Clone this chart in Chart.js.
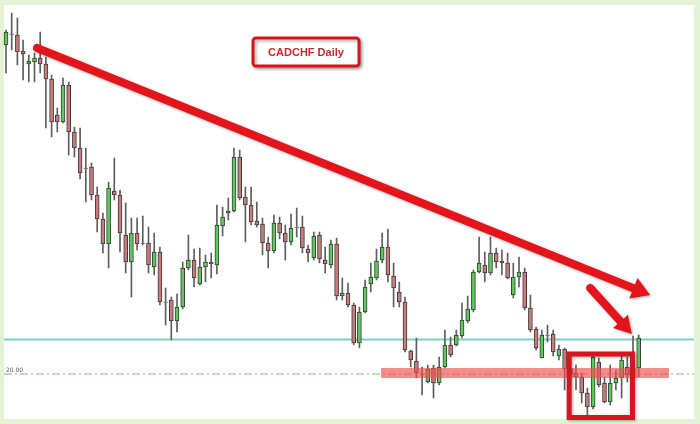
<!DOCTYPE html>
<html>
<head>
<meta charset="utf-8">
<script src="https://cdn.jsdelivr.net/npm/chart.js@4/dist/chart.umd.min.js"></script>
<style>
  html, body { margin: 0; padding: 0; background: #e4f2d6; }
  canvas { display: block; }
</style>
</head>
<body>
<canvas id="cadchf" width="700" height="424"></canvas>
<script>
// ------------------------------------------------------------
// CADCHF DAILY - candles (prices in pips, 1/10000 CHF)
// ------------------------------------------------------------
const open = [
  9410, 9432, 9430, 9398, 9372, 9376, 9384, 9372, 9342, 9270,
  9256, 9330, 9236, 9204, 9164, 9166, 9110, 9062, 9012, 9118,
  9110, 9030, 8976, 9034, 9014, 9014, 8966, 8996, 8896, 8900,
  8858, 8886, 8964, 8980, 8932, 8966, 8976, 8970, 9048, 9074,
  9078, 9186, 9106, 9090, 9058, 9052, 9014, 8998, 9054, 9034,
  9016, 9046, 9046, 9002, 8984, 9030, 8980, 8970, 9012, 8908,
  8914, 8890, 8814, 8876, 8932, 8944, 8980, 9006, 8948, 8916,
  8896, 8798, 8778, 8752, 8736, 8764, 8734, 8766, 8810, 8810,
  8828, 8858, 8880, 8956, 8970, 8954, 8994, 8978, 8974, 8910,
  8946, 8956, 8884, 8842, 8784, 8830, 8832, 8788, 8802, 8762,
  8754, 8746, 8714, 8686, 8776, 8734, 8696, 8734, 8744, 8766,
  8780, 8764
];
const close = [
  9436, 9431, 9396, 9392, 9378, 9384, 9372, 9342, 9256, 9256,
  9330, 9236, 9204, 9154, 9163, 9110, 9062, 9012, 9124, 9110,
  9034, 8976, 9034, 9012, 9013, 8970, 8996, 8896, 8895, 8858,
  8886, 8964, 8980, 8944, 8966, 8976, 8972, 9050, 9066, 9078,
  9186, 9104, 9090, 9056, 9050, 9014, 8998, 9054, 9034, 9016,
  9044, 9045, 9004, 8994, 9028, 8982, 8972, 9012, 8908, 8914,
  8890, 8814, 8876, 8926, 8946, 8978, 9006, 8950, 8924, 8896,
  8800, 8780, 8754, 8751, 8762, 8734, 8766, 8810, 8790, 8830,
  8860, 8882, 8956, 8974, 8954, 8994, 8976, 8974, 8944, 8946,
  8956, 8884, 8840, 8804, 8830, 8829, 8796, 8802, 8762, 8752,
  8746, 8714, 8686, 8786, 8730, 8696, 8734, 8744, 8780, 8750,
  8756, 8824
];
const high = [
  9440, 9474, 9464, 9420, 9390, 9394, 9436, 9386, 9350, 9284,
  9344, 9336, 9246, 9244, 9204, 9174, 9126, 9074, 9136, 9184,
  9120, 9094, 9064, 9064, 9068, 9046, 9034, 9006, 8924, 8906,
  8912, 8976, 9030, 9002, 9004, 8990, 8994, 9090, 9086, 9104,
  9204, 9200, 9126, 9126, 9096, 9064, 9026, 9070, 9066, 9050,
  9072, 9084, 9068, 9010, 9036, 9036, 9006, 9020, 9024, 8944,
  8934, 8894, 8886, 8940, 8974, 9002, 9034, 9042, 8974, 8936,
  8906, 8800, 8824, 8766, 8770, 8770, 8786, 8840, 8826, 8840,
  8894, 8908, 8960, 9026, 8996, 9026, 9004, 9000, 8994, 8974,
  8986, 8964, 8910, 8846, 8840, 8850, 8840, 8810, 8804, 8776,
  8770, 8754, 8724, 8788, 8784, 8746, 8770, 8760, 8790, 8786,
  8828, 8830
];
const low = [
  9354, 9400, 9370, 9340, 9336, 9336, 9354, 9244, 9226, 9236,
  9254, 9190, 9186, 9142, 9096, 9100, 9036, 8994, 8964, 9100,
  8996, 8954, 8906, 9000, 9010, 8954, 8950, 8890, 8850, 8820,
  8836, 8882, 8960, 8926, 8930, 8936, 8944, 8952, 9028, 9060,
  9076, 9100, 9016, 9050, 9046, 8990, 8964, 8994, 9022, 8980,
  9010, 9026, 8994, 8976, 8980, 8974, 8954, 8964, 8900, 8900,
  8886, 8810, 8804, 8874, 8916, 8940, 8974, 8936, 8886, 8886,
  8796, 8766, 8744, 8710, 8734, 8704, 8730, 8764, 8786, 8808,
  8824, 8854, 8876, 8954, 8936, 8950, 8964, 8950, 8942, 8904,
  8926, 8880, 8836, 8800, 8784, 8816, 8788, 8780, 8720, 8730,
  8720, 8694, 8670, 8682, 8726, 8694, 8690, 8720, 8704, 8736,
  8744, 8746
];
const days = open.map((_, i) => "D" + (i + 1));

// levels / drawings (index on x, pips on y)
const supportLevel = 8821;
const dashedLevel = 8752;
const zoneLevels = [8744, 8764];
const zoneStart = 65.8;
const zoneEnd = 116.3;
const trendLine = [[5.44, 9404], [113.0, 8910]];
const pointerArrow = [[102.5, 8924], [109.8, 8832]];
const focusBox = [[98.8, 8792], [109.9, 8665]];
const titleText = "CADCHF Daily";
const levelText = "20.00";

const UP = "#5cc95a";
const DOWN = "#c97b7b";

// ------------------------------------------------------------
// drawing helpers
// ------------------------------------------------------------
function drawArrow(ctx, x1, y1, x2, y2, width, headLen, headHalf) {
    const ang = Math.atan2(y2 - y1, x2 - x1);
    const bx = x2 - Math.cos(ang) * headLen;
    const by = y2 - Math.sin(ang) * headLen;
    ctx.beginPath();
    ctx.moveTo(x1, y1);
    ctx.lineTo(bx, by);
    ctx.lineWidth = width;
    ctx.lineCap = "round";
    ctx.stroke();
    ctx.beginPath();
    ctx.moveTo(x2, y2);
    ctx.lineTo(bx + Math.sin(ang) * headHalf, by - Math.cos(ang) * headHalf);
    ctx.lineTo(bx - Math.sin(ang) * headHalf, by + Math.cos(ang) * headHalf);
    ctx.closePath();
    ctx.fill();
}

const overlay = {
    id: "overlay",
    beforeDraw(chart) {
        const ctx = chart.ctx;
        const ys = chart.scales.y;
        ctx.save();
        ctx.fillStyle = "#e4f2d6";
        ctx.fillRect(0, 0, chart.width, chart.height);
        ctx.fillStyle = "#ffffff";
        ctx.fillRect(4, 5, 690, 414);

        // support line
        const sy = ys.getPixelForValue(supportLevel);
        ctx.strokeStyle = "#7fcfc6";
        ctx.lineWidth = 2;
        ctx.beginPath();
        ctx.moveTo(4, sy);
        ctx.lineTo(694, sy);
        ctx.stroke();

        // dashed level
        const dy = ys.getPixelForValue(dashedLevel);
        ctx.strokeStyle = "#a2da9c";
        ctx.lineWidth = 1.5;
        ctx.setLineDash([8, 3, 2, 3]);
        ctx.beginPath();
        ctx.moveTo(4, dy);
        ctx.lineTo(694, dy);
        ctx.stroke();
        ctx.setLineDash([]);
        ctx.fillStyle = "#555";
        ctx.font = "6px 'DejaVu Sans'";
        ctx.textBaseline = "bottom";
        ctx.fillText(levelText, 6, dy - 1);
        ctx.restore();
    },
    afterDatasetsDraw(chart) {
        const ctx = chart.ctx;
        const xs = chart.scales.x, ys = chart.scales.y;
        const px = v => xs.getPixelForValue(v);
        const py = v => ys.getPixelForValue(v);
        ctx.save();

        // red zone
        ctx.fillStyle = "rgba(240, 78, 78, 0.65)";
        const zt = py(zoneLevels[1]), zb = py(zoneLevels[0]);
        ctx.fillRect(px(zoneStart), zt, px(zoneEnd) - px(zoneStart), zb - zt);

        // arrows
        ctx.shadowColor = "rgba(0,0,0,0.35)";
        ctx.shadowBlur = 3;
        ctx.shadowOffsetX = 1;
        ctx.shadowOffsetY = 1;
        ctx.strokeStyle = "#e4141b";
        ctx.fillStyle = "#e4141b";
        drawArrow(ctx, px(trendLine[0][0]), py(trendLine[0][1]),
                  px(trendLine[1][0]), py(trendLine[1][1]), 8, 18, 11);
        drawArrow(ctx, px(pointerArrow[0][0]), py(pointerArrow[0][1]),
                  px(pointerArrow[1][0]), py(pointerArrow[1][1]), 8, 17, 10);

        // focus box
        ctx.strokeStyle = "#d8151c";
        ctx.lineWidth = 5;
        ctx.lineJoin = "miter";
        const bx1 = px(focusBox[0][0]), by1 = py(focusBox[0][1]);
        const bx2 = px(focusBox[1][0]), by2 = py(focusBox[1][1]);
        ctx.strokeRect(bx1, by1, bx2 - bx1, by2 - by1);

        // title box
        ctx.shadowColor = "rgba(0,0,0,0.3)";
        ctx.shadowBlur = 3;
        ctx.shadowOffsetX = 2;
        ctx.shadowOffsetY = 2;
        ctx.fillStyle = "#ffffff";
        ctx.strokeStyle = "#d8151c";
        ctx.lineWidth = 3;
        ctx.beginPath();
        ctx.roundRect(253, 38, 106, 28, 3);
        ctx.fill();
        ctx.stroke();
        ctx.shadowColor = "transparent";
        ctx.fillStyle = "#c8262d";
        ctx.font = "bold 11px 'Liberation Sans'";
        ctx.textAlign = "center";
        ctx.textBaseline = "middle";
        ctx.fillText(titleText, 306, 53);
        ctx.restore();
    }
};

// ------------------------------------------------------------
// INIT CHART
// ------------------------------------------------------------
const bodyColors = open.map((o, i) => close[i] >= o ? UP : DOWN);

new Chart(document.getElementById("cadchf"), {
    type: "bar",
    data: {
        labels: days,
        datasets: [
            {
                label: "body",
                data: open.map((o, i) => [o, close[i]]),
                backgroundColor: bodyColors,
                borderColor: "#3b3b3b",
                borderWidth: 1,
                borderSkipped: false,
                barThickness: 4,
                grouped: false,
                order: 0
            },
            {
                label: "wick",
                data: low.map((l, i) => [l, high[i]]),
                backgroundColor: "#5e5e5e",
                borderWidth: 0,
                barThickness: 1,
                grouped: false,
                order: 1
            }
        ]
    },
    options: {
        responsive: false,
        animation: false,
        devicePixelRatio: 1,
        layout: { padding: { left: 3.15, right: 58.45, top: 0, bottom: 0 } },
        scales: {
            x: { display: false, offset: true },
            y: { display: false, min: 8652, max: 9500 }
        },
        plugins: {
            legend: { display: false },
            tooltip: { enabled: false }
        }
    },
    plugins: [overlay]
});
</script>
</body>
</html>
